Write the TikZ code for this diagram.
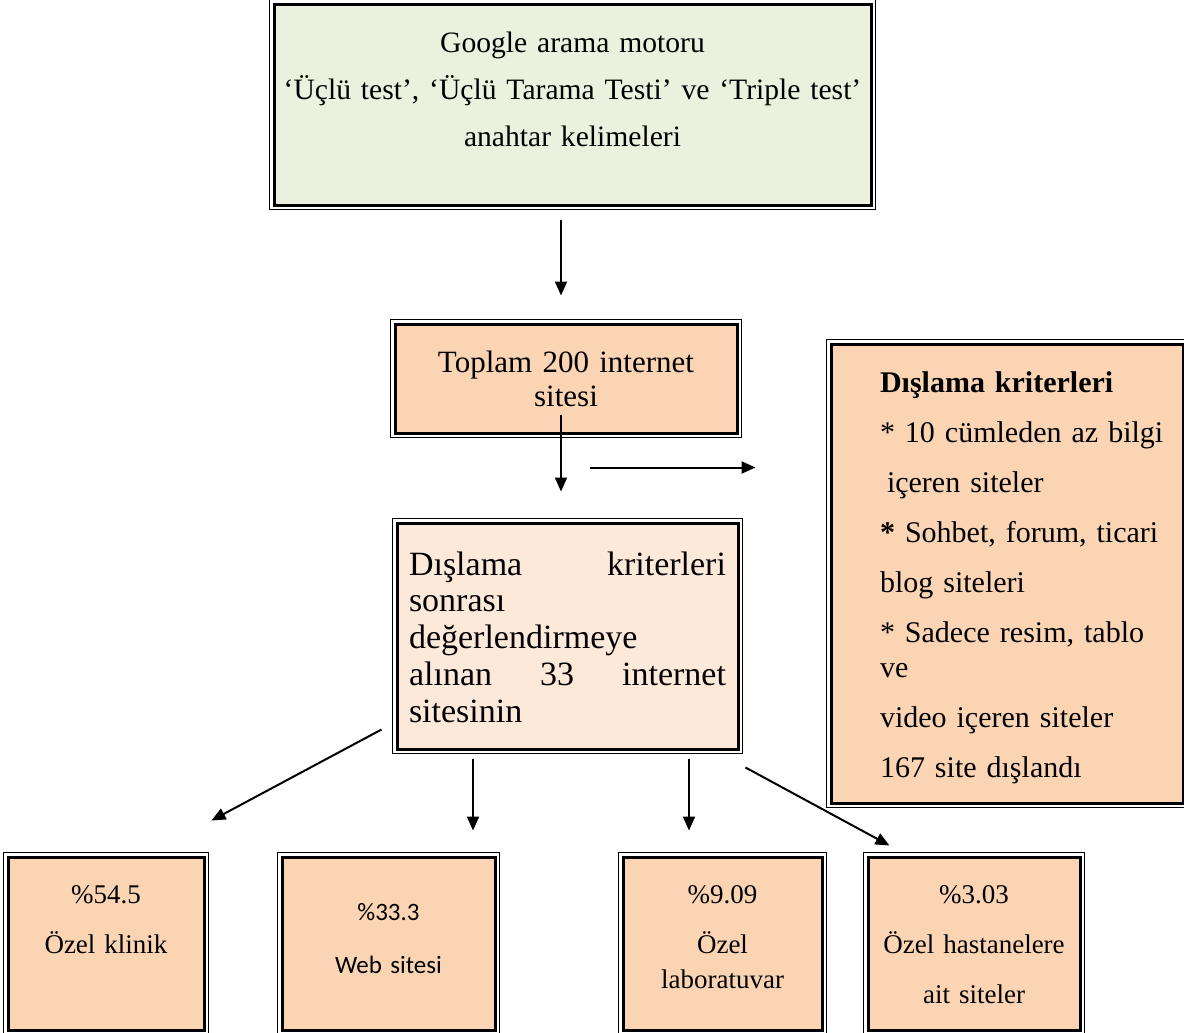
\documentclass[tikz,border=0pt]{standalone}
\usepackage{fontspec}
\setmainfont{Liberation Serif}
\newfontfamily\carlito{Carlito}
\usepackage{tikz}
\usetikzlibrary{arrows.meta,calc}
\definecolor{searchpale}{RGB}{235,241,222}
\definecolor{sitepale}{RGB}{251,212,180}
\definecolor{keptpale}{RGB}{253,233,217}

\begin{document}
\begin{tikzpicture}[x=0.5pt,y=-0.5pt,
  every node/.style={font=\fontsize{15}{17.5}\selectfont,inner ysep=0pt},
  frame/.style={draw,line width=1.5pt,anchor=base,inner xsep=0pt},
  flow/.style={line width=1pt,-{Triangle[width=6pt,length=7pt]}}]
  \useasboundingbox (0,0) rectangle (1184,1033);
  % search
  \node[frame,fill=searchpale,text width=298.5pt,text height=24.5pt,text depth=76pt,align=center,
    font=\fontsize{14.8}{23.5}\selectfont] (search) at (572.5,53)
    {Google arama motoru\\‘Üçlü test’, ‘Üçlü Tarama Testi’ ve ‘Triple test’\\anahtar kelimeleri};
  % all sites and exclusions
  \node[frame,fill=sitepale,text width=171pt,text height=24pt,text depth=30.5pt,align=center,
    font=\fontsize{15.5}{17}\selectfont] (total) at (566,372)
    {Toplam 200 internet\\sitesi};
  \node[frame,fill=keptpale,text width=158.5pt,inner xsep=6pt,text height=26pt,text depth=87pt,align=left,
    font=\fontsize{17}{18.4}\selectfont] (selected) at (567.5,575)
    {Dışlama\hfill kriterleri\\sonrası\\değerlendirmeye\\alınan\hfill 33\hfill internet\\sitesinin};
  \node[frame,fill=sitepale,text width=168pt,inner xsep=4pt,text height=24pt,text depth=205.5pt,align=left] (exclude) at (1007,392)
    {\leftskip=20.5pt \textbf{Dışlama kriterleri}\\[7.5pt]* 10 cümleden az bilgi\\[7.5pt]\hspace*{3.5pt}içeren siteler\\[7.5pt]\textbf{*} Sohbet, forum, ticari\\[7.5pt]blog siteleri\\[7.5pt]* Sadece resim, tablo\\ve\\[7.5pt]video içeren siteler\\[7.5pt]167 site dışlandı\par};
  % site types
  \node[frame,fill=sitepale,text width=98pt,text height=23pt,text depth=63.5pt,align=center,
    font=\fontsize{13.5}{17.5}\selectfont] (clinic) at (106,903)
    {\%54.5\\[7.5pt]Özel klinik};
  \node[frame,fill=sitepale,text width=106.5pt,text height=31.5pt,text depth=55pt,align=center,
    font=\carlito\fontsize{12.5}{26.5}\selectfont] (web) at (388.5,920)
    {\%33.3\\Web sitesi};
  \node[frame,fill=sitepale,text width=99.5pt,text height=23pt,text depth=63.5pt,align=center,
    font=\fontsize{13.5}{17.5}\selectfont] (lab) at (722.5,903)
    {\%9.09\\[7.5pt]Özel\\laboratuvar};
  \node[frame,fill=sitepale,text width=106pt,text height=23pt,text depth=63.5pt,align=center,
    font=\fontsize{13.5}{17.5}\selectfont] (hospital) at (974,903)
    {\%3.03\\[7.5pt]Özel hastanelere\\[7.5pt]ait siteler};
  % thin outer lines
  \foreach \n in {search,total,selected,exclude,clinic,web,lab,hospital}
    \draw[line width=0.5pt] ([shift={(-3,-3)}]\n.north west) rectangle ([shift={(3,3)}]\n.south east);
  % arrows
  \coordinate (outstart) at ($(total.south)+(24,33)$);
  \coordinate (outend) at ($(exclude.west)+(-74,0)$);
  \draw[flow] ($(search.south)+(-11.5,13)$) -- ($(total.north)+(-5,-27)$);
  \draw[flow] ($(total.south)+(-5,-20)$) -- ($(selected.north)+(-6.5,-30)$);
  \draw[flow] (outstart) -- (outstart -| outend);
  \draw[flow] ($(selected.south west)+(-14,-21)$) -- ($(clinic.north east)+(6,-35)$);
  \draw[flow] ($(selected.south)+(-94.5,8)$) -- ($(web.north)+(84.5,-25)$);
  \draw[flow] ($(selected.south)+(121.5,8)$) -- ($(lab.north)+(-33.5,-25)$);
  \draw[flow] ($(selected.south east)+(6,17)$) -- ($(hospital.north west)+(23,-10)$);
\end{tikzpicture}
\end{document}
